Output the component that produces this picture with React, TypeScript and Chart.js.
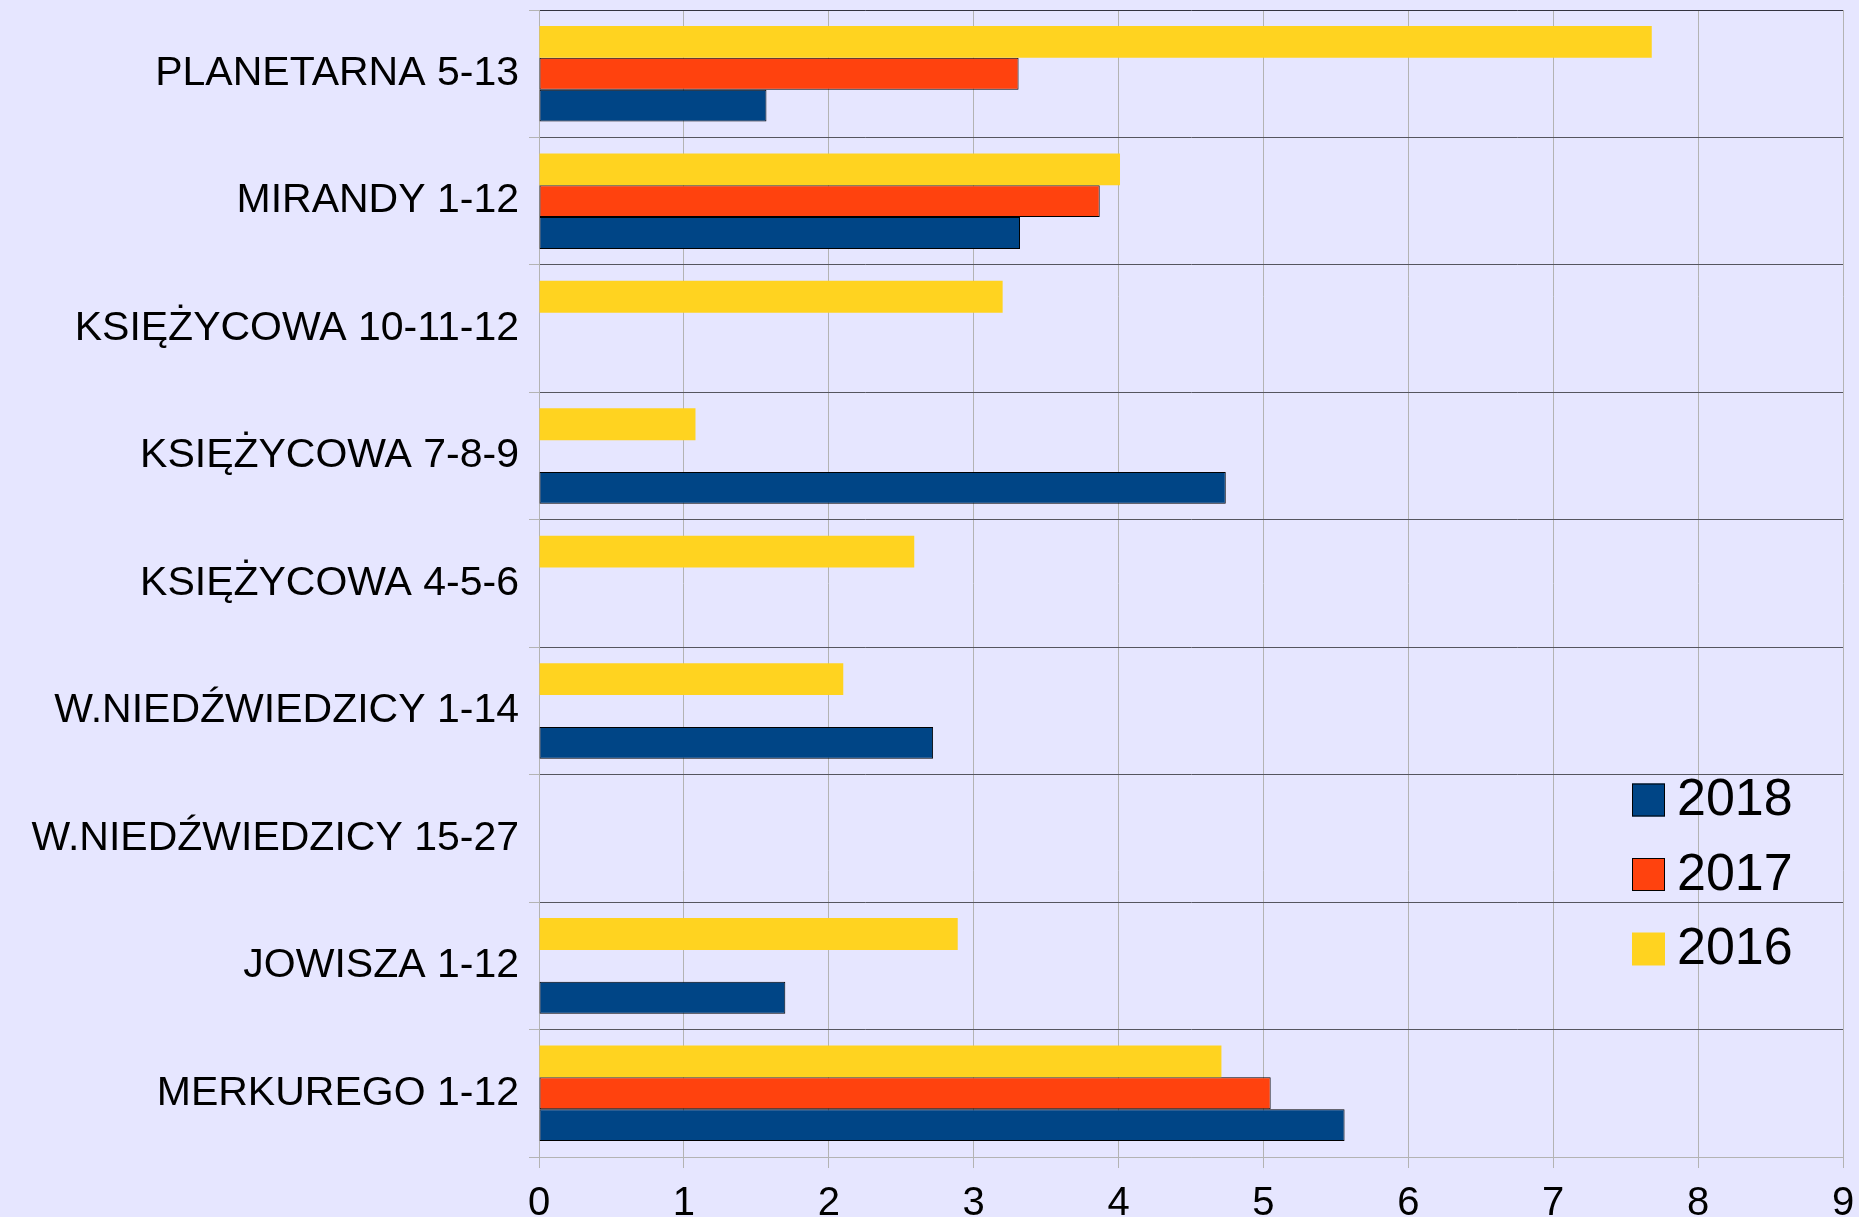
import React, { useEffect, useRef } from "react";
import { Chart, registerables } from "chart.js";

Chart.register(...registerables);

const categories = [
  "PLANETARNA 5-13",
  "MIRANDY 1-12",
  "KSIĘŻYCOWA 10-11-12",
  "KSIĘŻYCOWA 7-8-9",
  "KSIĘŻYCOWA 4-5-6",
  "W.NIEDŹWIEDZICY 1-14",
  "W.NIEDŹWIEDZICY 15-27",
  "JOWISZA 1-12",
  "MERKUREGO 1-12",
];

const values2016: (number | null)[] = [7.68, 4.01, 3.2, 1.08, 2.59, 2.1, null, 2.89, 4.71];
const values2017: (number | null)[] = [3.31, 3.87, null, null, null, null, null, null, 5.05];
const values2018: (number | null)[] = [1.57, 3.32, null, 4.74, null, 2.72, null, 1.7, 5.56];

const xTicks = [0, 1, 2, 3, 4, 5, 6, 7, 8, 9];

const FONT = '"Liberation Sans", Arial, sans-serif';
const BG = "#e6e6ff";

const insideLegend = {
  id: "insideLegend",
  afterDraw(chart: any) {
    const { ctx, chartArea } = chart;
    const ds = chart.data.datasets.slice().reverse();
    ctx.save();
    ctx.font = `52px ${FONT}`;
    ctx.textBaseline = "middle";
    ctx.textAlign = "left";
    const x0 = chartArea.right - 211;
    const y0 = chartArea.top + 790;
    ds.forEach((d: any, i: number) => {
      const cy = y0 + i * 74.5;
      ctx.fillStyle = d.backgroundColor;
      ctx.fillRect(x0, cy - 16.5, 33, 33);
      if (d.borderWidth > 0) {
        ctx.strokeStyle = "#000";
        ctx.lineWidth = 1;
        ctx.strokeRect(x0 + 0.5, cy - 16, 32, 32);
      }
      ctx.fillStyle = "#000";
      ctx.fillText(d.label, x0 + 45, cy + 1);
    });
    ctx.restore();
  },
};

export default function App() {
  const ref = useRef<HTMLCanvasElement | null>(null);

  useEffect(() => {
    document.body.style.margin = "0";
    document.body.style.background = BG;
    const canvas = ref.current;
    if (!canvas) return;
    const chart = new Chart(canvas, {
      type: "bar",
      data: {
        labels: categories,
        datasets: [
          {
            label: "2016",
            data: values2016,
            backgroundColor: "#ffd320",
            borderColor: "#ffd320",
            borderWidth: 0,
          },
          {
            label: "2017",
            data: values2017,
            backgroundColor: "#ff420e",
            borderColor: "#000000",
            borderWidth: 1,
            borderSkipped: false,
          },
          {
            label: "2018",
            data: values2018,
            backgroundColor: "#004586",
            borderColor: "#000000",
            borderWidth: 1,
            borderSkipped: false,
          },
        ],
      },
      options: {
        indexAxis: "y",
        responsive: false,
        animation: false,
        maintainAspectRatio: false,
        layout: { padding: { top: 10, right: 16, left: 0, bottom: 0 } },
        datasets: {
          bar: { categoryPercentage: 0.75, barPercentage: 1.0 },
        },
        plugins: {
          legend: { display: false },
          tooltip: { enabled: false },
        },
        scales: {
          x: {
            type: "linear",
            min: 0,
            max: 9,
            afterBuildTicks: (scale: any) => {
              scale.ticks = xTicks.map((v) => ({ value: v }));
            },
            afterFit: (scale: any) => {
              scale.height = 60;
              scale.paddingLeft = 0;
              scale.paddingRight = 0;
            },
            ticks: {
              stepSize: 1,
              color: "#000",
              font: { family: FONT, size: 40 },
              padding: 12,
            },
            grid: {
              color: "#b3b3b3",
              tickColor: "#b3b3b3",
              tickLength: 11,
              lineWidth: 1,
            },
            border: { color: "#b3b3b3", width: 1 },
          },
          y: {
            type: "category",
            afterFit: (scale: any) => {
              scale.width = 539;
              scale.paddingTop = 0;
              scale.paddingBottom = 0;
            },
            ticks: {
              color: "#000",
              font: { family: FONT, size: 41 },
              padding: 10,
            },
            grid: {
              offset: true,
              color: (c: any) =>
                c.index === undefined ? "#b3b3b3" : c.index === 0 ? "#333340" : "#55555f",
              tickColor: "#b3b3b3",
              tickLength: 10,
              lineWidth: 1,
            },
            border: { color: "#b3b3b3", width: 1 },
          },
        },
      },
      plugins: [insideLegend],
    } as any);
    return () => chart.destroy();
  }, []);

  return (
    <canvas
      ref={ref}
      width={1859}
      height={1217}
      style={{ display: "block", width: 1859, height: 1217, background: BG }}
    />
  );
}
